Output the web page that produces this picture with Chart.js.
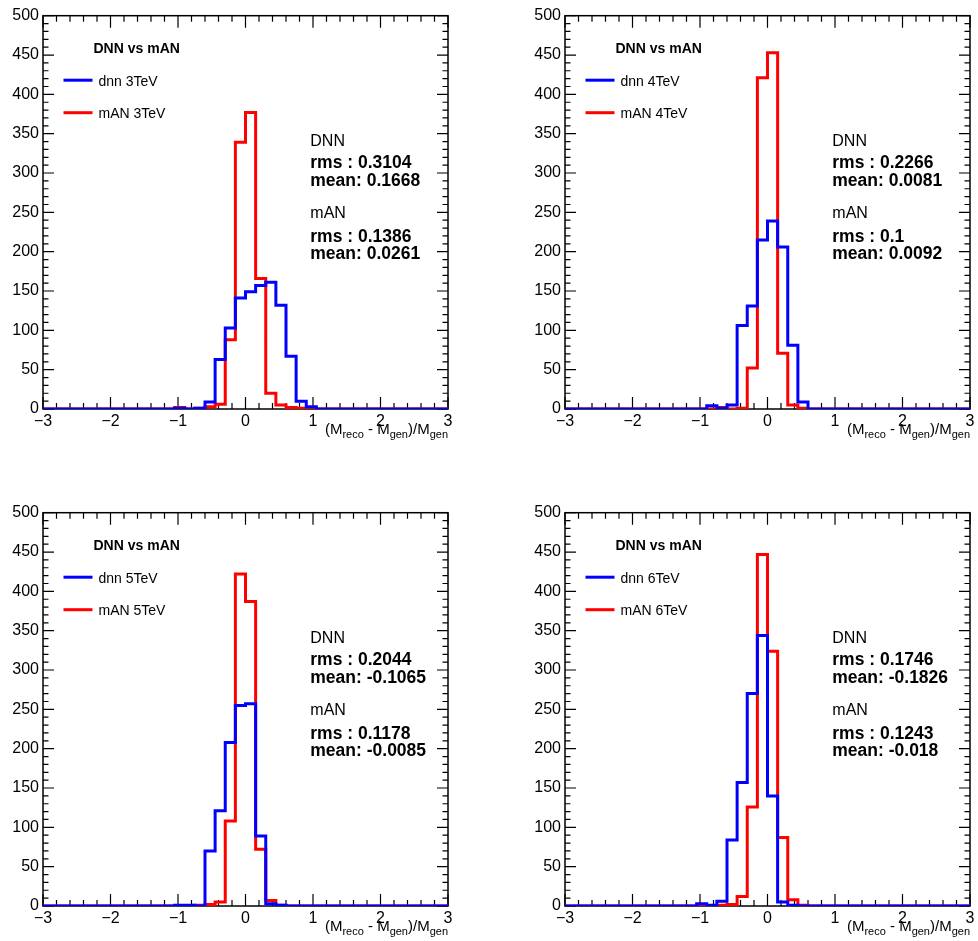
<!DOCTYPE html>
<html lang="en">
<head>
<meta charset="UTF-8">
<title>DNN vs mAN</title>
<script src="https://cdn.jsdelivr.net/npm/chart.js"></script>
<style>
  body { margin: 0; background: #fff; }
  #wrap { position: relative; width: 978px; height: 941px; overflow: hidden; }
  canvas { position: absolute; }
</style>
</head>
<body>
<div id="wrap">
  <canvas id="c3" width="456" height="444" style="left:0px;top:0px"></canvas>
  <canvas id="c4" width="456" height="444" style="left:522px;top:0px"></canvas>
  <canvas id="c5" width="456" height="444" style="left:0px;top:497px"></canvas>
  <canvas id="c6" width="456" height="444" style="left:522px;top:497px"></canvas>
</div>
<script>
// 40 bins of width 0.15 from -3 to 3
const xMin = -3, xMax = 3, binWidth = 0.15;
const yMax = 500;

const dnn3 = [0,0,0,0,0,0,0,0,0,0, 0,0,0,1,0,1,9,63,103,141, 149,157,161,132,67,10,3,0,0,0, 0,0,0,0,0,0,0,0,0,0];
const man3 = [0,0,0,0,0,0,0,0,0,0, 0,0,0,2,0,1,3,6,88,339, 377,166,20,5,2,1,0,0,0,0, 0,0,0,0,0,0,0,0,0,0];
const dnn4 = [0,0,0,0,0,0,0,0,0,0, 0,0,0,0,4,1,5,106,131,215, 239,206,81,9,0,0,0,0,0,0, 0,0,0,0,0,0,0,0,0,0];
const man4 = [0,0,0,0,0,0,0,0,0,0, 0,0,0,0,0,2,0,1,52,421, 453,71,5,1,0,0,0,0,0,0, 0,0,0,0,0,0,0,0,0,0];
const dnn5 = [0,0,0,0,0,0,0,0,0,0, 0,0,0,1,1,0,70,121,208,255, 257,89,3,1,0,0,0,0,0,0, 0,0,0,0,0,0,0,0,0,0];
const man5 = [0,0,0,0,0,0,0,0,0,0, 0,0,0,0,0,1,2,5,108,422, 387,72,7,1,0,0,0,0,0,0, 0,0,0,0,0,0,0,0,0,0];
const dnn6 = [0,0,0,0,0,0,0,0,0,0, 0,0,0,3,1,6,84,157,270,344, 140,5,1,0,0,0,0,0,0,0, 0,0,0,0,0,0,0,0,0,0];
const man6 = [0,0,0,0,0,0,0,0,0,0, 0,0,0,0,0,1,2,12,126,447, 324,87,8,1,0,0,0,0,0,0, 0,0,0,0,0,0,0,0,0,0];

const energies = ["3TeV", "4TeV", "5TeV", "6TeV"];
const dnnRms  = ["0.3104", "0.2266", "0.2044", "0.1746"];
const dnnMean = ["0.1668", "0.0081", "-0.1065", "-0.1826"];
const manRms  = ["0.1386", "0.1", "0.1178", "0.1243"];
const manMean = ["0.0261", "0.0092", "-0.0085", "-0.018"];

const dnnSeries = [dnn3, dnn4, dnn5, dnn6];
const manSeries = [man3, man4, man5, man6];
const canvasIds = ["c3", "c4", "c5", "c6"];

const BLUE = "#0000ff", RED = "#ff0000";
const FONT = "'Liberation Sans', Arial, Helvetica, sans-serif";

Chart.defaults.font.family = FONT;
Chart.defaults.color = "#000";

function toSteps(vals) {
  const pts = vals.map((v, k) => ({ x: Math.round((xMin + binWidth * k) * 100) / 100, y: v }));
  pts.push({ x: xMax, y: vals[vals.length - 1] });
  return pts;
}

// ROOT style frame: ticks on all four sides pointing inward, labels and stats box
const rootFrame = {
  id: "rootFrame",
  beforeDatasetsDraw(chart) {
    const { ctx, chartArea: a, scales: { x, y } } = chart;
    ctx.save();
    ctx.strokeStyle = "#000";
    ctx.lineWidth = 1.5;
    ctx.strokeRect(a.left, a.top, a.right - a.left, a.bottom - a.top);
    ctx.lineWidth = 1.2;
    ctx.beginPath();
    for (let i = 0; i <= 30; i++) {
      const v = xMin + i * 0.2;
      const px = x.getPixelForValue(v);
      const len = i % 5 === 0 ? 12 : 6;
      ctx.moveTo(px, a.bottom); ctx.lineTo(px, a.bottom - len);
      ctx.moveTo(px, a.top); ctx.lineTo(px, a.top + len);
    }
    for (let v = 0; v <= yMax; v += 10) {
      const py = y.getPixelForValue(v);
      const len = v % 50 === 0 ? 11 : 5.5;
      ctx.moveTo(a.left, py); ctx.lineTo(a.left + len, py);
      ctx.moveTo(a.right, py); ctx.lineTo(a.right - len, py);
    }
    ctx.stroke();
    ctx.restore();
  },
  afterDraw(chart, args, opts) {
    const { ctx, chartArea: a } = chart;
    const L = a.left, T = a.top;
    ctx.save();
    ctx.fillStyle = "#000";
    ctx.textBaseline = "alphabetic";
    ctx.textAlign = "left";

    // legend
    ctx.font = "bold 14px " + FONT;
    ctx.fillText("DNN vs mAN", L + 50.5, T + 37);
    ctx.lineWidth = 3;
    ctx.strokeStyle = BLUE;
    ctx.beginPath(); ctx.moveTo(L + 20.5, T + 64.5); ctx.lineTo(L + 49.5, T + 64.5); ctx.stroke();
    ctx.strokeStyle = RED;
    ctx.beginPath(); ctx.moveTo(L + 20.5, T + 97); ctx.lineTo(L + 49.5, T + 97); ctx.stroke();
    ctx.font = "14px " + FONT;
    ctx.fillText("dnn " + opts.energy, L + 55.5, T + 70.3);
    ctx.fillText("mAN " + opts.energy, L + 55.5, T + 102.6);

    // stats
    const sx = L + 267.3;
    ctx.font = "16px " + FONT;
    ctx.fillText("DNN", sx, T + 130.3);
    ctx.fillText("mAN", sx, T + 202);
    ctx.font = "bold 17.5px " + FONT;
    ctx.fillText("rms : " + opts.dnnRms, sx, T + 152.6);
    ctx.fillText("mean: " + opts.dnnMean, sx, T + 170.3);
    ctx.fillText("rms : " + opts.manRms, sx, T + 226);
    ctx.fillText("mean: " + opts.manMean, sx, T + 243.6);

    // x axis title (M_reco - M_gen)/M_gen, right aligned
    const parts = [
      ["(M", 15, 0], ["reco", 11, 4], [" - M", 15, 0], ["gen", 11, 4], [")/M", 15, 0], ["gen", 11, 4]
    ];
    let w = 0;
    parts.forEach(p => { ctx.font = p[1] + "px " + FONT; w += ctx.measureText(p[0]).width; });
    let cx = a.right - w;
    const base = a.bottom + 25;
    parts.forEach(p => {
      ctx.font = p[1] + "px " + FONT;
      ctx.fillText(p[0], cx, base + p[2]);
      cx += ctx.measureText(p[0]).width;
    });
    ctx.restore();
  }
};

canvasIds.forEach((id, i) => {
  const ctx = document.getElementById(id).getContext("2d");
  new Chart(ctx, {
    type: "line",
    data: {
      datasets: [
        { label: "dnn " + energies[i], data: toSteps(dnnSeries[i]), borderColor: BLUE, borderWidth: 3, stepped: true, pointRadius: 0, fill: false },
        { label: "mAN " + energies[i], data: toSteps(manSeries[i]), borderColor: RED, borderWidth: 3, stepped: true, pointRadius: 0, fill: false }
      ]
    },
    options: {
      responsive: false,
      animation: false,
      devicePixelRatio: 1,
      layout: { padding: { top: 15.7, bottom: 5, left: 0, right: 8 } },
      scales: {
        x: {
          type: "linear", min: xMin, max: xMax,
          grid: { display: false, drawTicks: false },
          border: { display: false },
          ticks: {
            stepSize: 1, padding: 3, maxRotation: 0,
            font: { size: 16 },
            callback: v => (v < 0 ? "\u2212" + Math.abs(v) : String(v))
          },
          afterFit: s => { s.height = 30; }
        },
        y: {
          type: "linear", min: 0, max: yMax,
          grid: { display: false, drawTicks: false },
          border: { display: false },
          ticks: { stepSize: 50, padding: 4, font: { size: 16 } },
          afterFit: s => { s.width = 43; }
        }
      },
      plugins: {
        legend: { display: false },
        tooltip: { enabled: false },
        rootFrame: {
          energy: energies[i],
          dnnRms: dnnRms[i], dnnMean: dnnMean[i],
          manRms: manRms[i], manMean: manMean[i]
        }
      }
    },
    plugins: [rootFrame]
  });
});
</script>
</body>
</html>
